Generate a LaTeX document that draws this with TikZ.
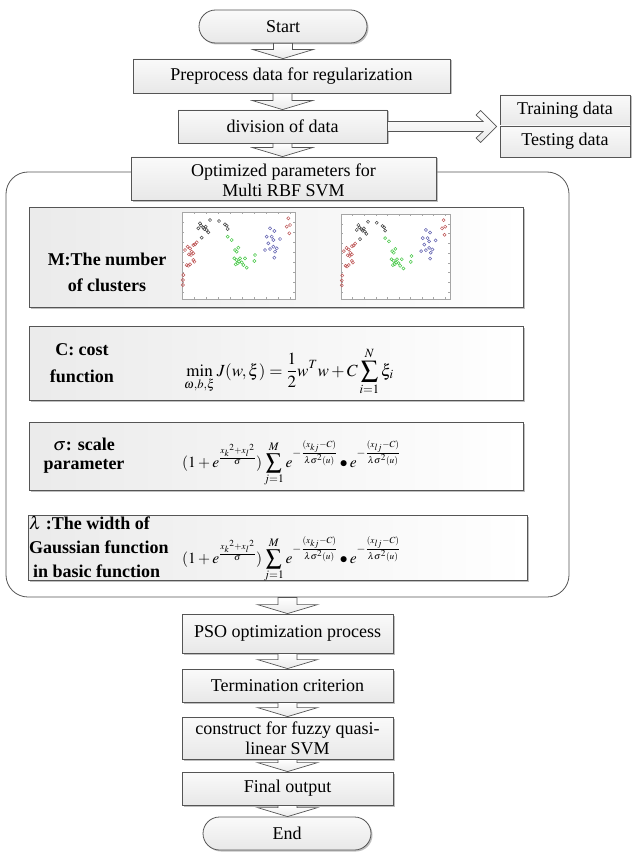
\documentclass[tikz,border=0pt]{standalone}
\usepackage{mathptmx}
\usepackage{fontspec}
\setmainfont{Liberation Serif}
\usetikzlibrary{shadows,calc}
\definecolor{linec}{RGB}{85,85,85}
\definecolor{ptred}{RGB}{190,85,85}
\definecolor{ptgray}{RGB}{70,70,70}
\definecolor{ptgreen}{RGB}{70,200,70}
\definecolor{ptblue}{RGB}{95,95,175}
\newcommand\fsn{\fontsize{18}{20}\selectfont}
\tikzset{
  boxshadow/.style={drop shadow={shadow xshift=1.5pt,shadow yshift=-1.5pt,fill=black!50,opacity=0.5}},
  flowbox/.style={draw=linec,line width=0.8pt,top color=black!2,bottom color=black!9,boxshadow,inner sep=0pt,align=center,font=\fsn},
  termbox/.style={flowbox,rounded corners=16.5pt},
  parambox/.style={draw=linec,line width=0.8pt,left color=black!8,right color=white,boxshadow,inner sep=0pt},
  container/.style={draw=linec,line width=0.8pt,fill=white,rounded corners=22pt,inner sep=0pt},
  blockarr/.style={draw=linec,line width=0.7pt,top color=white,bottom color=black!8},
  lab/.style={inner sep=0pt,font=\fontsize{18}{#1}\selectfont\bfseries,align=center},
  lab/.default=24,
  formula/.style={inner sep=0pt,font=\fontsize{#1}{20}\selectfont,anchor=base west},
  formula/.default=17,
  ptstyle/.style={line width=0.5pt},
  tickc/.style={draw=black!35,line width=0.4pt},
}
\newcommand\downarr[3]{%
  \path[blockarr] let \p3=(#1), \p1=(#2.south), \p2=(#3.north) in
    (\x3-9.5pt,\y1) -- (\x3-9.5pt,\y2+9pt) -- (\x3-30pt,\y2+9pt) -- (\x3,\y2)
    -- (\x3+30pt,\y2+9pt) -- (\x3+9.5pt,\y2+9pt) -- (\x3+9.5pt,\y1) -- cycle;}
\newcommand\scatterplot{%
  \fill[white] (0,0) rectangle (113,87);
  \draw[tickc] (0,0) rectangle (113,87);
  \foreach \t in {12,24,...,108} {\draw[tickc] (\t,87) -- (\t,85.3); \draw[tickc] (\t,0) -- (\t,1.7);}
  \foreach \t in {10,20,...,80} {\draw[tickc] (0,\t) -- (1.7,\t); \draw[tickc] (113,\t) -- (111.3,\t);}
  \foreach \a/\b in {3/38,5.7/34.7,8/36.3,9.7/39.7,7/42.3,9/43,11.3/41.3,13/32.3,14.7/30.3,11.3/33,4.7/53,8/52.3,11.3/48,12.3/49.7,6.3/53.7,1.3/63,0.8/68,0.8/73,106.3/6.3,104.7/14.7,108/13,107.3/21.3}
    \draw[ptred,ptstyle] (\a,\b) circle (1.6pt);
  \foreach \a/\b in {16.3/16.3,19/13.7,21.3/15.7,23.7/14.7,24.7/18,26.3/20.3,28/8,37/9,43/12.3,44.7/13.7,45.7/17,19.7/25.7,22.3/17,18/11.3}
    \draw[ptgray,ptstyle] (\a,\b) circle (1.6pt);
  \foreach \a/\b in {45.7/24.7,49.7/28,53/38,54.7/39.7,56.3/35.7,52.3/46.3,54.7/48,57/49.7,55.7/51.3,58/46.3,59.7/50.3,61.3/53,64.7/55.7,73/43,72.3/49,63/46.3,53.7/52.3}
    \draw[ptgreen,ptstyle] (\a,\b) circle (1.6pt);
  \foreach \a/\b in {88/16.3,92.3/19,89.7/24.7,91.3/28,84.7/24.7,86.3/31.3,83/38,88/37,91.3/34.7,93/39.7,92.3/45.7,98/27,94.7/36.3}
    \draw[ptblue,ptstyle] (\a,\b) circle (1.6pt);
}
\begin{document}
\begin{tikzpicture}[x=1pt,y=-1pt]
\useasboundingbox (0,0) rectangle (633,853);
% top flow
\node[termbox,minimum width=168pt,minimum height=33pt] (start) at (283,26.5) {Start};
\node[flowbox,minimum width=317pt,minimum height=34pt] (pre) at (291.5,76) {Preprocess data for regularization};
\node[flowbox,minimum width=209pt,minimum height=33pt] (div) at (282.5,126.5) {division of data};
\node[flowbox,minimum width=130pt,minimum height=31pt] (train) at (565,110.5) {Training data};
\node[flowbox,minimum width=130pt,minimum height=31pt] (test) at (565,141.5) {Testing data};
% container
\node[container,minimum width=563pt,minimum height=425pt] (cont) at (287.5,384.5) {};
\node[flowbox,minimum width=305pt,minimum height=43pt] (opt) at (283.5,178.5) {\rule{0pt}{16pt}Optimized parameters for\\Multi RBF SVM};
% parameter boxes
\node[parambox,minimum width=494pt,minimum height=100pt] (mbox) at (276,257) {};
\node[parambox,minimum width=494pt,minimum height=74pt] (cbox) at (276,363) {};
\node[parambox,minimum width=494pt,minimum height=68pt] (sbox) at (276,456) {};
\node[parambox,minimum width=499pt,minimum height=65pt] (lbox) at (277.5,547.5) {};
\node[lab=26] (mlab) at (107,272) {M:The number\\of clusters};
\begin{scope}[shift={(182,212)}]\scatterplot\end{scope}
\begin{scope}[shift={(341,214)},xscale=0.965,yscale=0.977]\scatterplot\end{scope}
\node[lab=27] (clab) at (82,363.3) {C: cost\\function};
\node[formula] (cform) at (184,376) {$\displaystyle \min_{\omega,b,\xi} J(w,\xi)=\frac{1}{2}w^{T}w+C\sum_{i=1}^{N}\xi_i$};
\node[lab=19] (slab) at (84,455.3) {$\sigma$: scale\\parameter};
\node[formula=15.5] (sform) at (182,467) {$\displaystyle (1+e^{\frac{{x_k}^2+{x_l}^2}{\sigma}})\sum_{j=1}^{M} e^{-\frac{(x_{kj}-C)}{\lambda\sigma^2(u)}}\bullet e^{-\frac{(x_{lj}-C)}{\lambda\sigma^2(u)}}$};
\node[lab=24,align=left,anchor=north west] (llab) at (29,516) {$\lambda$ :The width of\\Gaussian function\\\hspace{4pt}in basic function};
\node[formula=15.5] (lform) at (182,563) {$\displaystyle (1+e^{\frac{{x_k}^2+{x_l}^2}{\sigma}})\sum_{j=1}^{M} e^{-\frac{(x_{kj}-C)}{\lambda\sigma^2(u)}}\bullet e^{-\frac{(x_{lj}-C)}{\lambda\sigma^2(u)}}$};
% bottom flow
\node[flowbox,minimum width=211pt,minimum height=39pt] (pso) at (287.5,633.5) {PSO optimization process};
\node[flowbox,minimum width=211pt,minimum height=33pt] (term) at (287.5,685.5) {Termination criterion};
\node[flowbox,minimum width=211pt,minimum height=42pt] (cons) at (287.5,738) {construct for fuzzy quasi-\\linear SVM};
\node[flowbox,minimum width=211pt,minimum height=33pt] (final) at (287.5,788.5) {Final output};
\node[termbox,minimum width=168pt,minimum height=33pt] (end) at (287,833.5) {End};
% block arrows
\downarr{start}{start}{pre}
\downarr{div}{pre}{div}
\downarr{div}{div}{opt}
\downarr{cont}{cont}{pso}
\downarr{pso}{pso}{term}
\downarr{term}{term}{cons}
\downarr{cons}{cons}{final}
\downarr{final}{final}{end}
\path[blockarr] let \p1=(div.east), \p2=(train.south west) in
  (\x1,\y1+5pt) -- (\x2-16.5pt,\y1+5pt) -- (\x2-23.5pt,\y1+11.5pt) -- (\x2-19pt,\y1+16pt)
  -- (\x2-3pt,\y1) -- (\x2-19pt,\y1-16pt) -- (\x2-23.5pt,\y1-11.5pt) -- (\x2-16.5pt,\y1-5pt)
  -- (\x1,\y1-5pt) -- cycle;
\end{tikzpicture}
\end{document}
